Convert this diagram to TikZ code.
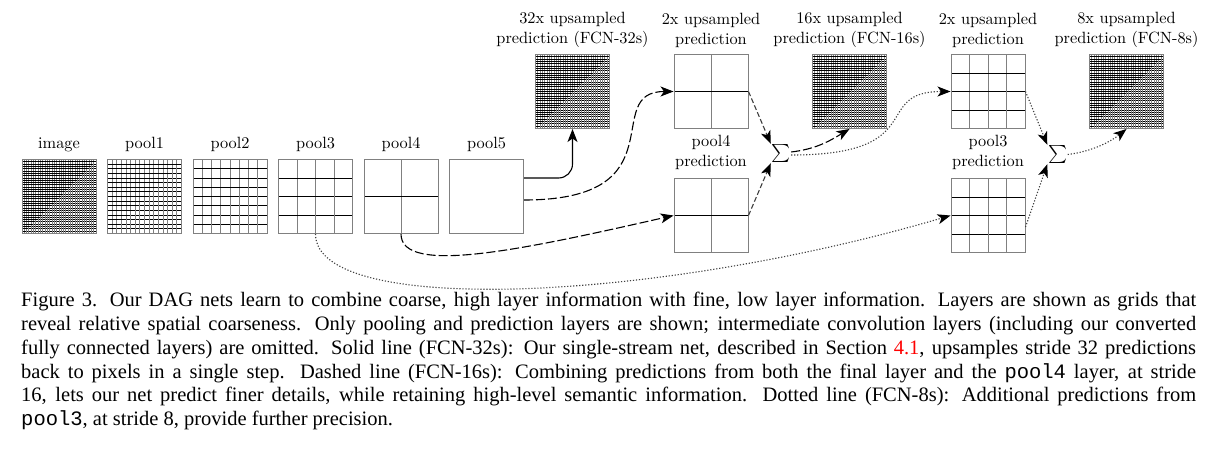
\documentclass[tikz,border=0pt]{standalone}
\usepackage{amsmath}
\usepackage{amssymb}
\usepackage{fontspec}
\newfontfamily\capfont{Liberation Serif}
\newfontfamily\capmono{Liberation Mono}
\usepackage{tikz}
\usetikzlibrary{arrows.meta}
\tikzstyle{layer} = [rectangle, 
draw=black!50, 
line width=1pt, 
minimum size=74pt, 
inner sep=0pt]
\tikzstyle{lbl} = [font=\fontsize{10}{12.4}\selectfont, scale=1.63, align=center, inner sep=0pt, anchor=south]
\tikzstyle{sumnode} = [font=\fontsize{10}{12.4}\selectfont, scale=1.8, inner sep=0.2pt]
\tikzstyle{arrow} = [line width=1.1pt,->,>={Stealth[length=13pt,width=10pt,inset=3.5pt,color=black]}]
\tikzstyle{fcnsolid} = [arrow, rounded corners=14pt]
\tikzstyle{fcndash} = [arrow, dash pattern=on 9pt off 3pt]
\tikzstyle{fcnshort} = [arrow, black!75, dash pattern=on 5pt off 2.5pt]
\tikzstyle{fcndot} = [arrow, black!75, dash pattern=on 1.2pt off 1.8pt]
\tikzstyle{caption} = [font=\capfont\fontsize{20.5}{23.8}\selectfont, text width=1175pt, align=justify, inner sep=0pt]
\tikzset{cells/.style={path picture={
  \pgfmathsetmacro\cellw{74/#1}
  \pgfmathtruncatemacro\lastcell{#1-1}
  \foreach \k in {1,...,\lastcell} {
    \draw[black!50, line width=1pt] ([xshift=\k*\cellw pt]path picture bounding box.south west) -- ([xshift=\k*\cellw pt]path picture bounding box.north west);
    \draw[black, line width=1pt] ([yshift=\k*\cellw pt]path picture bounding box.south west) -- ([yshift=\k*\cellw pt]path picture bounding box.south east);
  }
}}}
\begin{document}
\begin{tikzpicture}[x=1pt, y=-1pt, node distance=85.5pt]
        \useasboundingbox[fill=white] (0,0) rectangle (1228,452);
        \node (image) [layer, cells=32] at (59,196.5) {};
        \node (pool1) [layer, cells=16, right of=image] {};
        \node (pool2) [layer, cells=8, right of=pool1] {};
        \node (pool3) [layer, cells=4, right of=pool2] {};
        \node (pool4) [layer, cells=2, right of=pool3] {};
        \node (pool5) [layer, right of=pool4] {};
        \node (up32) [layer, cells=32] at (572.5,91.5) {};
        \node (up2a) [layer, cells=2, right of=up32, node distance=138.5pt] {};
        \node (up16) [layer, cells=32, right of=up2a, node distance=138.5pt] {};
        \node (up2b) [layer, cells=4, right of=up16, node distance=138.5pt] {};
        \node (up8) [layer, cells=32, right of=up2b, node distance=138.5pt] {};
        \node (pred4) [layer, cells=2, below of=up2a, node distance=124pt] {};
        \node (pred3) [layer, cells=4, below of=up2b, node distance=124pt] {};
        \node (sum1) [sumnode] at (781,153.5) {$\sum$};
        \node (sum2) [sumnode] at (1057.5,154.5) {$\sum$};
        \node (t-image) [lbl] at ([yshift=7pt]image.north) {image};
        \node (t-pool1) [lbl] at ([yshift=7pt]pool1.north) {pool1};
        \node (t-pool2) [lbl] at ([yshift=7pt]pool2.north) {pool2};
        \node (t-pool3) [lbl] at ([yshift=7pt]pool3.north) {pool3};
        \node (t-pool4) [lbl] at ([yshift=7pt]pool4.north) {pool4};
        \node (t-pool5) [lbl] at ([yshift=7pt]pool5.north) {pool5};
        \node (t-up32) [lbl] at ([yshift=6pt]up32.north) {32x upsampled\\prediction (FCN-32s)};
        \node (t-up2a) [lbl] at ([yshift=6pt]up2a.north) {2x upsampled\\prediction};
        \node (t-up16) [lbl] at ([yshift=6pt]up16.north) {16x upsampled\\prediction (FCN-16s)};
        \node (t-up2b) [lbl] at ([yshift=6pt]up2b.north) {2x upsampled\\prediction};
        \node (t-up8) [lbl] at ([yshift=6pt]up8.north) {8x upsampled\\prediction (FCN-8s)};
        \node (t-pred4) [lbl] at ([yshift=8pt]pred4.north) {pool4\\prediction};
        \node (t-pred3) [lbl] at ([yshift=8pt]pred3.north) {pool3\\prediction};
        \draw [fcnsolid] ([yshift=18.5pt]pool5.east) -| (up32.south);
        \draw [fcndash] ([yshift=-3.5pt]pool5.east) .. controls +(157,0) and +(-74,0) .. (up2a.west);
        \draw [fcndash] (pool4.south) .. controls +(0,42) and +(-150,34) .. (pred4.west);
        \draw [fcnshort] (up2a.east) -- (sum1.north west);
        \draw [fcnshort] (pred4.east) -- (sum1.south west);
        \draw [fcndash] ([yshift=1.5pt]sum1.east) .. controls +(25,-3) and +(-20,12) .. (up16.south);
        \draw [fcndot] ([yshift=-1.5pt]sum1.east) .. controls +(140,0) and +(-80,0) .. (up2b.west);
        \draw [fcndot] (pool3.south) .. controls +(0,82) and +(-300,88) .. (pred3.west);
        \draw [fcndot] (up2b.east) -- (sum2.north west);
        \draw [fcndot] ([yshift=-11.5pt]pred3.east) -- (sum2.south west);
        \draw [fcndot] (sum2.east) .. controls +(25,-3) and +(-15,12) .. (up8.south);
        \node (cap) [caption, anchor=north west] at (21,289.8) {\strut Figure 3.  Our DAG nets learn to combine coarse, high layer information with fine, low layer information. Layers are shown as grids that\linebreak
reveal relative spatial coarseness. Only pooling and prediction layers are shown; intermediate convolution layers (including our converted\linebreak
fully connected layers) are omitted. Solid line (FCN-32s): Our single-stream net, described in Section \textcolor{red}{4.1}, upsamples stride 32 predictions\linebreak
back to pixels in a single step.  Dashed line (FCN-16s): Combining predictions from both the final layer and the {\capmono pool4} layer, at stride\linebreak
16, lets our net predict finer details, while retaining high-level semantic information. Dotted line (FCN-8s): Additional predictions from\linebreak
{\capmono pool3}, at stride 8, provide further precision.};
    \end{tikzpicture}
\end{document}
